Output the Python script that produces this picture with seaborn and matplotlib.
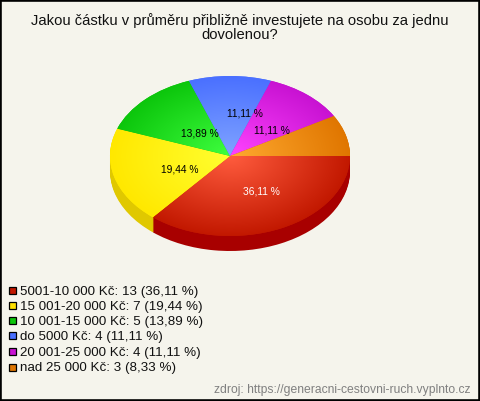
import numpy as np
import matplotlib
matplotlib.use('Agg')
import matplotlib.pyplot as plt
from matplotlib.colors import LinearSegmentedColormap
from matplotlib.patches import Rectangle
import seaborn as sns

# data
title = 'Jakou částku v průměru přibližně investujete na osobu za jednu\ndovolenou?'
categories = ['5001-10 000 Kč', '15 001-20 000 Kč', '10 001-15 000 Kč',
              'do 5000 Kč', '20 001-25 000 Kč', 'nad 25 000 Kč']
counts = [13, 7, 5, 4, 4, 3]
percents = ['36,11', '19,44', '13,89', '11,11', '11,11', '8,33']
source = 'zdroj: https://generacni-cestovni-ruch.vyplnto.cz'

# colours
inner = ['#ff5c3e', '#ffff30', '#3fff3f', '#80a4ff', '#ff44ff', '#ffaa30']
outer = ['#c21800', '#ffe800', '#0cc60c', '#4a70ff', '#c812d2', '#e07600']
side = ['#a80000', '#e0c800', '#0a9a0a', '#3050c0', '#9a0aa0', '#b06000']
legend_colors = ['#c21800', '#ffe000', '#0cc60c', '#4a70ff', '#c812d2', '#e07600']
bg = '#f5f4ec'

sns.set_theme(style='white')
plt.rcParams['font.family'] = ['Liberation Sans', 'DejaVu Sans']

W, H = 480, 401
CX, CY, RX, RY, DEPTH = 230, 156, 120, 80, 15

fig = plt.figure(figsize=(W / 100, H / 100), dpi=100, facecolor=bg)
ax = fig.add_axes([0, 0, 1, 1])


def to_data(px, py):
    return (px - CX) / RX, (CY - py) / RY


# side wall of the pie, stacked copies going down
for d in range(DEPTH, 0, -1):
    ax.pie(counts, colors=side, radius=1, startangle=0, counterclock=False,
           center=(0, -d / RY), wedgeprops={'edgecolor': 'none', 'linewidth': 0})

wedges, _, pct_texts = ax.pie(
    counts, colors=outer, radius=1, startangle=0, counterclock=False,
    wedgeprops={'edgecolor': 'none', 'linewidth': 0},
    autopct=lambda p: '' if p < 9 else f'{p:.2f}'.replace('.', ',') + ' %',
    textprops={'fontsize': 7.4})

# radial gradient on each slice
gx, gy = np.meshgrid(np.linspace(-1.02, 1.02, 260), np.linspace(-1.02, 1.02, 260))
gr = np.clip(np.hypot(gx, gy), 0, 1)
for wedge, c1, c2 in zip(wedges, inner, outer):
    cmap = LinearSegmentedColormap.from_list('s', [c1, c2])
    im = ax.imshow(gr, cmap=cmap, vmin=0, vmax=1, extent=(-1.02, 1.02, -1.02, 1.02),
                   origin='lower', aspect='auto', interpolation='bilinear', zorder=2)
    im.set_clip_path(wedge)

label_pos = [(261, 191), (180, 169), (200, 133), (245, 113), (272, 130), (230, 156)]
for txt, (px, py), col in zip(pct_texts, label_pos, ['white'] + ['black'] * 5):
    txt.set_position(to_data(px, py))
    txt.set_color(col)
    txt.set_zorder(5)

ax.set_aspect('auto')
ax.set_xlim(-CX / RX, (W - CX) / RX)
ax.set_ylim((CY - H) / RY, CY / RY)
ax.set_axis_off()

# title
fig.text(239.5 / W, 1 - 13 / H, title, ha='center', va='top', fontsize=10.6,
         color='#111111', linespacing=1.0)

# legend rows
rows_y = [290, 305.3, 320.6, 335.9, 351.2, 367]
for cat, n, pct, col, y in zip(categories, counts, percents, legend_colors, rows_y):
    fig.add_artist(Rectangle((9 / W, 1 - (y + 3.5) / H), 7 / W, 7 / H,
                             transform=fig.transFigure, facecolor=col,
                             edgecolor='black', linewidth=0.9))
    fig.text(20 / W, 1 - y / H, f'{cat}: {n} ({pct} %)', ha='left', va='center_baseline',
             fontsize=9.6, color='#111111')

fig.text(470 / W, 1 - 389 / H, source, ha='right', va='center_baseline', fontsize=8.7,
         color='#808080')

# black frame
fig.add_artist(Rectangle((0, 0), 1, 1, transform=fig.transFigure, fill=False,
                         edgecolor='black', linewidth=2.6))

fig.savefig('out.png', dpi=100, facecolor=bg)
